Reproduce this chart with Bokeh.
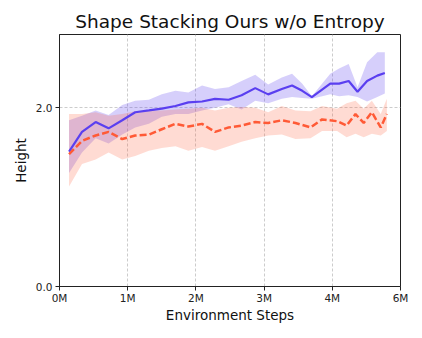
from bokeh.plotting import figure
from bokeh.models import FixedTicker, ColumnDataSource
from bokeh.embed import file_html
from bokeh.resources import INLINE

# x in millions of environment steps
blue_x = [0.14,0.33,0.53,0.72,0.92,1.11,1.31,1.50,1.70,1.89,2.09,2.28,2.48,2.67,2.87,3.06,3.26,3.41,3.56,3.70,3.97,4.10,4.24,4.37,4.51,4.66,4.77]
blue_y = [1.51,1.73,1.84,1.77,1.86,1.95,1.97,1.99,2.02,2.06,2.07,2.10,2.09,2.14,2.22,2.15,2.21,2.25,2.19,2.12,2.27,2.27,2.30,2.18,2.30,2.36,2.39]
blue_hi = [1.86,1.91,1.97,1.92,2.03,2.08,2.09,2.15,2.19,2.17,2.25,2.21,2.23,2.30,2.37,2.26,2.34,2.38,2.27,2.13,2.38,2.44,2.49,2.23,2.51,2.62,2.62]
blue_lo = [1.27,1.50,1.66,1.60,1.70,1.78,1.82,1.90,1.93,1.93,1.97,2.00,2.04,1.98,2.08,2.05,2.10,2.12,2.11,2.10,2.15,2.13,2.14,2.12,2.07,2.12,2.16]

red_x = [0.14,0.33,0.53,0.72,0.92,1.11,1.31,1.50,1.70,1.89,2.09,2.28,2.48,2.67,2.87,3.06,3.26,3.46,3.68,3.85,4.07,4.21,4.34,4.46,4.58,4.71,4.80]
red_y = [1.48,1.63,1.69,1.73,1.65,1.69,1.70,1.76,1.82,1.79,1.82,1.73,1.78,1.80,1.84,1.83,1.86,1.83,1.78,1.87,1.85,1.80,1.93,1.83,1.95,1.78,1.93]
red_hi = [1.93,1.93,1.95,1.91,1.93,1.96,1.97,1.97,1.98,1.99,2.00,1.97,2.00,2.01,2.00,1.95,2.02,1.97,1.96,2.02,1.99,2.05,2.08,1.99,2.08,1.93,2.10]
red_lo = [1.12,1.37,1.42,1.50,1.42,1.46,1.52,1.55,1.57,1.52,1.56,1.52,1.57,1.62,1.66,1.69,1.70,1.65,1.66,1.74,1.74,1.67,1.71,1.67,1.71,1.69,1.74]

x_ticks = [0, 1, 2, 3, 4, 5]
x_tick_labels = ["0M", "1M", "2M", "3M", "4M", "6M"]
y_ticks = [0, 2]
y_tick_labels = ["0.0", "2.0"]

FONT = "DejaVu Sans"

p = figure(frame_width=341, frame_height=252, output_backend="svg", toolbar_location=None,
           x_range=(0, 5), y_range=(0, 2.82),
           min_border_left=59, min_border_right=14, min_border_top=34, min_border_bottom=36,
           title="Shape Stacking Ours w/o Entropy")
p.title.align = "center"
p.title.text_font = FONT
p.title.text_font_size = "18.5px"
p.title.text_font_style = "normal"
p.title.text_color = "#111111"
p.title.standoff = 5
p.title.offset = 0

blue = "#5a3ff0"
red = "#ff5a36"
bs = ColumnDataSource(dict(x=blue_x, y=blue_y, hi=blue_hi, lo=blue_lo))
rs = ColumnDataSource(dict(x=red_x, y=red_y, hi=red_hi, lo=red_lo))
p.varea(x="x", y1="lo", y2="hi", source=bs, fill_color=blue, fill_alpha=0.25)
p.varea(x="x", y1="lo", y2="hi", source=rs, fill_color=red, fill_alpha=0.22)
p.line(x="x", y="y", source=bs, line_color=blue, line_width=2.2)
p.line(x="x", y="y", source=rs, line_color=red, line_width=2.5, line_dash="7 3")

p.xaxis.ticker = FixedTicker(ticks=x_ticks)
p.xaxis.major_label_overrides = {t: l for t, l in zip(x_ticks, x_tick_labels)}
p.yaxis.ticker = FixedTicker(ticks=y_ticks)
p.yaxis.major_label_overrides = {t: l for t, l in zip(y_ticks, y_tick_labels)}
p.xaxis.minor_tick_line_color = None
p.yaxis.minor_tick_line_color = None
for ax in (p.xaxis, p.yaxis):
    ax.major_tick_in = 0
    ax.major_tick_out = 4
    ax.axis_line_color = "#222222"
    ax.major_tick_line_color = "#222222"
    ax.major_label_text_font = FONT
    ax.major_label_text_font_size = "10.5px"
    ax.major_label_text_color = "#222222"
    ax.major_label_standoff = 3
    ax.axis_label_text_font = FONT
    ax.axis_label_text_font_size = "13.5px"
    ax.axis_label_text_font_style = "normal"
    ax.axis_label_text_color = "#111111"
p.xaxis.major_label_standoff = 1
p.xaxis.axis_label = "Environment Steps"
p.yaxis.axis_label = "Height"
p.xaxis.axis_label_standoff = 0
p.yaxis.axis_label_standoff = 4
p.yaxis.major_label_orientation = "horizontal"

p.xgrid.ticker = FixedTicker(ticks=x_ticks)
p.ygrid.ticker = FixedTicker(ticks=y_ticks)
p.grid.grid_line_color = "#cccccc"
p.grid.grid_line_dash = "3 2"
p.grid.grid_line_width = 1
p.outline_line_color = "#222222"
p.outline_line_width = 1
p.background_fill_color = "white"
p.border_fill_color = "white"

open("out.html", "w").write(file_html(p, INLINE))
